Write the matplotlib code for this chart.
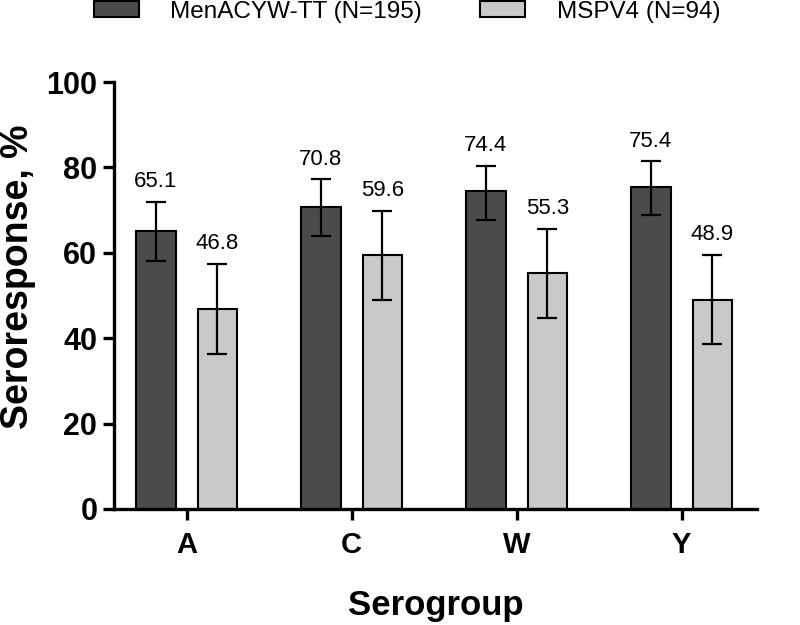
import matplotlib
matplotlib.use("Agg")
import matplotlib.pyplot as plt
import numpy as np

plt.rcParams['font.family'] = ['Liberation Sans', 'DejaVu Sans']

categories = ["A", "C", "W", "Y"]
series_names = ["MenACYW-TT (N=195)", "MSPV4 (N=94)"]
menacyw = [65.1, 70.8, 74.4, 75.4]
menacyw_lo = [58.0, 63.9, 67.6, 68.9]
menacyw_hi = [72.0, 77.2, 80.4, 81.4]
mspv4 = [46.8, 59.6, 55.3, 48.9]
mspv4_lo = [36.4, 49.0, 44.8, 38.6]
mspv4_hi = [57.4, 69.8, 65.6, 59.6]
yticks = [0, 20, 40, 60, 80, 100]

fig = plt.figure(figsize=(8, 6.25), dpi=100)
ax = fig.add_axes([0.1425, 0.1856, 0.8035, 0.6832])

x = np.arange(len(categories))
w = 0.24
off = 0.187
colors = ["#4b4b4b", "#c9c9c9"]
vals = [menacyw, mspv4]
los = [menacyw_lo, mspv4_lo]
his = [menacyw_hi, mspv4_hi]
offs = [-off, off]
for v, lo, hi, c, o, name in zip(vals, los, his, colors, offs, series_names):
    v = np.array(v); lo = np.array(lo); hi = np.array(hi)
    ax.bar(x + o, v, width=w, color=c, edgecolor="black", linewidth=1.5, label=name, zorder=2)
    ax.errorbar(x + o, v, yerr=[v - lo, hi - v], fmt="none", ecolor="black",
                elinewidth=1.6, capsize=7.5, capthick=1.6, zorder=3)
    for xi, hv, val in zip(x + o, hi, v):
        ax.annotate(f"{val:.1f}", (xi, hv), xytext=(0, 7), textcoords="offset points",
                    ha="center", va="bottom", fontsize=16)

ax.set_xlim(-0.44, 3.456)
ax.set_ylim(0, 100)
ax.set_yticks(yticks)
ax.set_xticks(x)
ax.set_xticklabels(categories, fontsize=21, fontweight="bold")
ax.set_yticklabels([str(t) for t in yticks], fontsize=22, fontweight="bold")
for s in ["top", "right"]:
    ax.spines[s].set_visible(False)
for s in ["left", "bottom"]:
    ax.spines[s].set_linewidth(2.4)
ax.tick_params(axis="both", direction="out", length=8, width=2.4)
ax.tick_params(axis="x", pad=8)
ax.tick_params(axis="y", pad=4)

fig.text(435.5 / 800, 1 - 606 / 625, "Serogroup", fontsize=25, fontweight="bold",
         ha="center", va="center")
fig.text(18 / 800, 1 - 276.5 / 625, "Seroresponse, %", fontsize=27, fontweight="bold",
         ha="center", va="center", rotation=90)

fig.legend(loc="center", bbox_to_anchor=(0.509, 1 - 12 / 625), ncol=2, frameon=False,
           fontsize=17.5, handlelength=1.85, handleheight=0.64, handletextpad=1.3,
           columnspacing=2.4, borderpad=0)

fig.savefig("out.png", dpi=100)
